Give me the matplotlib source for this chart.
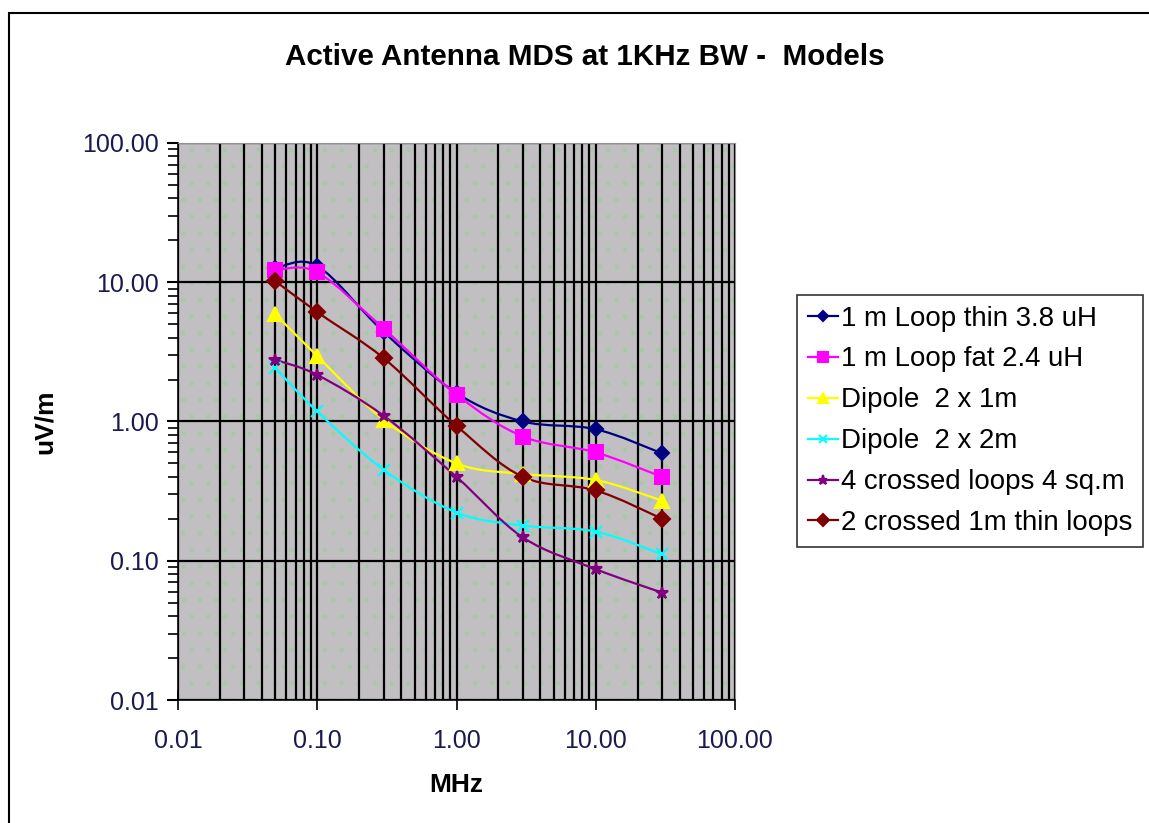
import numpy as np
import matplotlib
matplotlib.use('Agg')
import matplotlib.pyplot as plt
from matplotlib.path import Path
from matplotlib.patches import PathPatch, Rectangle
from matplotlib.lines import Line2D
from matplotlib.ticker import FixedLocator, NullFormatter, FixedFormatter

plt.rcParams['font.family'] = ['Liberation Sans', 'DejaVu Sans']
plt.rcParams['hatch.linewidth'] = 0.8

# Data (MHz vs uV/m)
freq = [0.05, 0.1, 0.3, 1, 3, 10, 30]
loop_thin = [12.6, 13.1, 4.4, 1.6, 1.0, 0.88, 0.59]
loop_fat = [12.2, 11.8, 4.65, 1.56, 0.78, 0.60, 0.40]
dipole_1m = [5.9, 2.95, 1.03, 0.50, 0.42, 0.38, 0.27]
dipole_2m = [2.42, 1.18, 0.45, 0.222, 0.179, 0.162, 0.111]
crossed_4 = [2.77, 2.16, 1.10, 0.40, 0.147, 0.087, 0.059]
crossed_2 = [10.2, 6.1, 2.85, 0.93, 0.40, 0.32, 0.20]

names = ['1 m Loop thin 3.8 uH', '1 m Loop fat 2.4 uH', 'Dipole  2 x 1m',
         'Dipole  2 x 2m', '4 crossed loops 4 sq.m', '2 crossed 1m thin loops']
series = [loop_thin, loop_fat, dipole_1m, dipole_2m, crossed_4, crossed_2]
colors = ['#000080', '#FF00FF', '#FFFF00', '#00FFFF', '#800080', '#800000']
markers = ['D', 's', '^', 'x', '*', 'D']
msizes = [7, 10, 10, 8, 9, 8]

ticks = [0.01, 0.1, 1, 10, 100]
tick_labels = ['0.01', '0.10', '1.00', '10.00', '100.00']


def smooth_path(x, y, t=1 / 6):
    # Excel-like smoothed line: Catmull-Rom Bezier in log space
    lx, ly = np.log10(x), np.log10(y)
    n = len(lx)
    verts = [(x[0], y[0])]
    codes = [Path.MOVETO]
    for i in range(n - 1):
        i0, i3 = max(i - 1, 0), min(i + 2, n - 1)
        c1 = (lx[i] + (lx[i + 1] - lx[i0]) * t, ly[i] + (ly[i + 1] - ly[i0]) * t)
        c2 = (lx[i + 1] - (lx[i3] - lx[i]) * t, ly[i + 1] - (ly[i3] - ly[i]) * t)
        verts += [(10 ** c1[0], 10 ** c1[1]), (10 ** c2[0], 10 ** c2[1]), (x[i + 1], y[i + 1])]
        codes += [Path.CURVE4] * 3
    return Path(verts, codes)


fig = plt.figure(figsize=(11.49, 8.23), dpi=100)
fig.patches.append(Rectangle((9 / 1149, -0.01), 1.0, 1 - 13 / 823 + 0.01, transform=fig.transFigure,
                             fill=False, edgecolor='black', linewidth=1.5))

ax = fig.add_axes([178 / 1149, 1 - 700 / 823, 557 / 1149, 557 / 823])
ax.set_xscale('log')
ax.set_yscale('log')
ax.set_xlim(0.01, 100)
ax.set_ylim(0.01, 100)

# Gray plot area with faint green dots
ax.set_facecolor('#C2BFC2')
ax.add_patch(Rectangle((0, 0), 1, 1, transform=ax.transAxes, facecolor='none',
                       edgecolor='#A8C8A8', hatch='.', linewidth=0, zorder=0))

# Grid: vertical at every decade step, horizontal at decades only
minor_x = [m * 10.0 ** e for e in range(-2, 2) for m in range(2, 10)]
ax.xaxis.set_major_locator(FixedLocator(ticks))
ax.xaxis.set_major_formatter(FixedFormatter(tick_labels))
ax.xaxis.set_minor_locator(FixedLocator(minor_x))
ax.xaxis.set_minor_formatter(NullFormatter())
ax.yaxis.set_major_locator(FixedLocator(ticks))
ax.yaxis.set_major_formatter(FixedFormatter(tick_labels))
ax.yaxis.set_minor_locator(FixedLocator(minor_x))
ax.yaxis.set_minor_formatter(NullFormatter())
ax.grid(True, which='major', color='black', linewidth=1.6)
ax.grid(True, which='minor', axis='x', color='black', linewidth=1.6)
ax.set_axisbelow(True)

ax.tick_params(axis='x', which='major', direction='inout', length=14, width=1.2, pad=14,
               labelsize=18, labelcolor='#1a1a50')
ax.tick_params(axis='x', which='minor', length=0)
ax.tick_params(axis='y', which='major', direction='out', length=8, width=1.5, pad=6,
               labelsize=18, labelcolor='#1a1a50')
ax.tick_params(axis='y', which='minor', direction='out', length=7, width=1.2)

for s in ['top', 'right']:
    ax.spines[s].set_color('#909090')
for s in ['left', 'bottom']:
    ax.spines[s].set_color('black')
    ax.spines[s].set_linewidth(1.2)

handles = []
for vals, c, m, ms, name in zip(series, colors, markers, msizes, names):
    ax.add_patch(PathPatch(smooth_path(freq, vals), facecolor='none', edgecolor=c,
                           linewidth=1.6, zorder=3))
    ax.plot(freq, vals, linestyle='none', marker=m, markersize=ms, color=c,
            markeredgecolor=c, markeredgewidth=1.5, zorder=4)
    handles.append(Line2D([], [], color=c, linewidth=1.6, marker=m, markersize=ms * 0.75,
                          markeredgecolor=c, markeredgewidth=1.5))

ax.set_xlabel('MHz', fontsize=19, fontweight='bold', labelpad=14)
ax.set_ylabel('uV/m', fontsize=19, fontweight='bold', labelpad=18)
fig.text(585 / 1149, 1 - 57 / 823, 'Active Antenna MDS at 1KHz BW -  Models',
         fontsize=21.3, fontweight='bold', ha='center', va='center')

leg = fig.legend(handles, names, loc='upper left', bbox_to_anchor=(797 / 1149, 1 - 295 / 823),
                 fontsize=19.9, frameon=True, fancybox=False, edgecolor='black',
                 handlelength=1.1, handletextpad=0.13, labelspacing=0.54, borderpad=0.38,
                 borderaxespad=0)
leg.get_frame().set_linewidth(1.2)

fig.savefig('out.png', dpi=100)
